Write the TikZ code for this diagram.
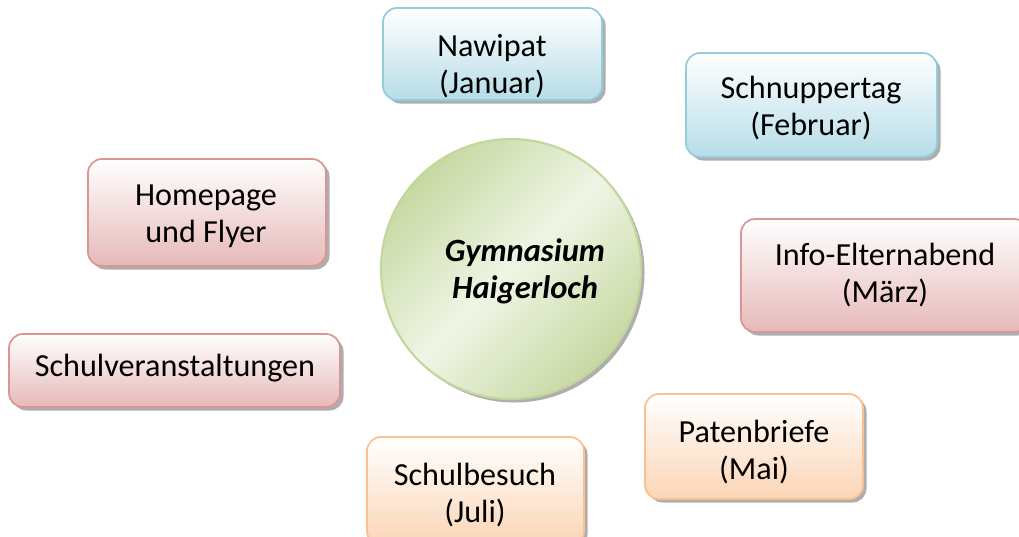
\documentclass[tikz,border=0pt]{standalone}
\usepackage{fontspec}
\setmainfont{Carlito}
\usetikzlibrary{shadows}

\definecolor{blueline}{HTML}{93CDDD}
\definecolor{bluefill}{HTML}{B6DDE8}
\definecolor{redline}{HTML}{D99694}
\definecolor{redfill}{HTML}{E6B9B8}
\definecolor{orangeline}{HTML}{FAC08F}
\definecolor{orangefill}{HTML}{FBD5B5}
\definecolor{greenline}{HTML}{C3D69B}
\definecolor{greenlight}{HTML}{EFF5E5}
\definecolor{greendark}{HTML}{C7D9A2}

\begin{document}
\begin{tikzpicture}[x=0.02cm,y=-0.02cm,
    txt/.style={align=center,font=\fontsize{18.3}{21}\selectfont},
    box/.style={rounded corners=0.28cm,line width=1pt,
      drop shadow={shadow xshift=2pt,shadow yshift=-2pt,opacity=.45,fill=black!70}},
    bluebox/.style={box,draw=blueline,top color=white,bottom color=bluefill},
    redbox/.style={box,draw=redline,top color=white,bottom color=redfill},
    orangebox/.style={box,draw=orangeline,top color=white,bottom color=orangefill}]
      \useasboundingbox (0,0) rectangle (1019,537);
      % centre
      \draw[line width=1.2pt,draw=greenline,top color=greendark,bottom color=greendark,
        middle color=greenlight,shading angle=45,
        drop shadow={shadow xshift=2pt,shadow yshift=-2pt,opacity=.45,fill=black!70}]
        (511,269) circle (130);
      \node[txt,font=\fontsize{18.5}{21}\selectfont\bfseries\itshape] (schule) at (525,271) {Gymnasium\\Haigerloch};
      % boxes
      \draw[bluebox] (383,8) rectangle (602,100);
      \draw[bluebox] (686,53) rectangle (937,157);
      \draw[redbox] (88,159) rectangle (326,266);
      \draw[redbox] (741,219) rectangle (1028,332);
      \draw[redbox] (9,334) rectangle (340,407);
      \draw[orangebox] (645,394) rectangle (863,499);
      \draw[orangebox] (367,437) rectangle (584,545);
      % texts
      \begin{scope}
        \clip (383,8) rectangle (602,99);
        \node[txt] (nawipat) at (492,66) {Nawipat\\(Januar)};
      \end{scope}
      \node[txt] (schnupper) at (811,108) {Schnuppertag\\(Februar)};
      \node[txt] (homepage) at (206,216) {Homepage\\und Flyer};
      \node[txt] (elternabend) at (885,275) {Info-Elternabend\\(März)};
      \node[txt] (veranstaltung) at (175,368) {Schulveranstaltungen};
      \node[txt] (paten) at (754,452) {Patenbriefe\\(Mai)};
      \node[txt] (besuch) at (475,495) {Schulbesuch\\(Juli)};
    \end{tikzpicture}
\end{document}
